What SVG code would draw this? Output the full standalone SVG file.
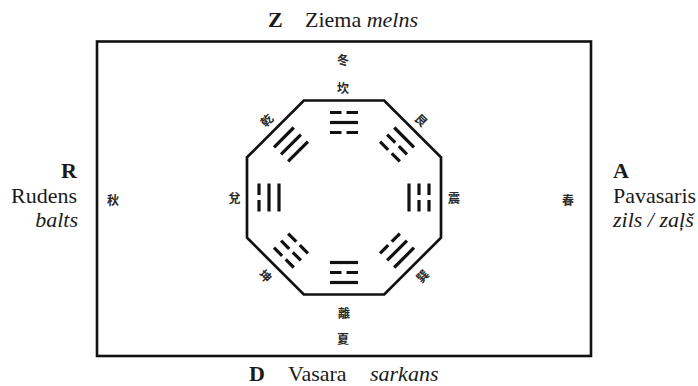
<svg xmlns="http://www.w3.org/2000/svg" xmlns:xlink="http://www.w3.org/1999/xlink" width="698" height="386" viewBox="0 0 698 386">
<style>
.lbl{font-family:"Liberation Serif","Times New Roman",serif;font-size:22px;fill:#1a1a1a}
.b{font-weight:bold}
.i{font-style:italic}
.zh{font-family:"Noto Sans CJK TC","Noto Sans CJK SC",sans-serif;font-size:12px;font-weight:bold;fill:#2a2a2a;text-anchor:middle;dominant-baseline:central}
.frame{fill:none;stroke:#111;stroke-width:2.6}
.oct{fill:none;stroke:#111;stroke-width:2.7;stroke-linejoin:miter}
.ln{fill:none;stroke:#111;stroke-width:3.2}
</style>
<defs>
<path id="yang" d="M330 0H358"/>
<path id="yin" d="M330 0H341.5M346.5 0H358"/>
</defs>
<rect width="698" height="386" fill="#fff"/>
<g id="frame"><rect class="frame" x="97" y="41.5" width="494" height="314.5"/></g>
<g id="labels">
<text class="lbl" y="27"><tspan class="b" x="268">Z</tspan><tspan x="305">Ziema </tspan><tspan class="i">melns</tspan></text>
<text class="lbl" text-anchor="end"><tspan class="b" x="77" y="178">R</tspan><tspan x="77" y="203">Rudens</tspan><tspan class="i" x="78" y="227">balts</tspan></text>
<text class="lbl"><tspan class="b" x="613" y="178">A</tspan><tspan x="613" y="203">Pavasaris</tspan><tspan class="i" x="613" y="227">zils / zaļš</tspan></text>
<text class="lbl" y="381"><tspan class="b" x="249">D</tspan><tspan x="288">Vasara</tspan><tspan class="i" x="370">sarkans</tspan></text>
</g>
<g id="seasons">
<text class="zh" x="343" y="59">冬</text>
<text class="zh" x="343" y="338">夏</text>
<text class="zh" x="113" y="199">秋</text>
<text class="zh" x="568" y="199">春</text>
</g>
<g id="octagon"><polygon class="oct" points="303.8,100.5 384.2,100.5 441,157.3 441,237.7 384.2,294.5 303.8,294.5 247,237.7 247,157.3"/></g>
<g id="kan" class="ln"><use xlink:href="#yin" y="112.5"/><use xlink:href="#yang" y="122.5"/><use xlink:href="#yin" y="132.5"/><text class="zh" x="343" y="87" stroke="none">坎</text></g>
<g id="gen" class="ln" transform="rotate(45 344 197.5)"><use xlink:href="#yang" y="112.5"/><use xlink:href="#yin" y="122.5"/><use xlink:href="#yin" y="132.5"/><text class="zh" x="344" y="87.5" stroke="none">艮</text></g>
<g id="zhen" class="ln" transform="rotate(90 344 197.5)"><use xlink:href="#yin" y="112.5"/><use xlink:href="#yin" y="122.5"/><use xlink:href="#yang" y="132.5"/><text class="zh" x="344" y="87.5" stroke="none" transform="rotate(-90 344 87.5)">震</text></g>
<g id="xun" class="ln" transform="rotate(135 344 197.5)"><use xlink:href="#yang" y="112.5"/><use xlink:href="#yang" y="122.5"/><use xlink:href="#yin" y="132.5"/><text class="zh" x="344" y="87.5" stroke="none" transform="rotate(180 344 87.5)">巽</text></g>
<g id="li" class="ln" transform="rotate(180 344 197.5)"><use xlink:href="#yang" y="112.5"/><use xlink:href="#yin" y="122.5"/><use xlink:href="#yang" y="132.5"/><text class="zh" x="344" y="83" stroke="none" transform="rotate(180 344 83)">離</text></g>
<g id="kun" class="ln" transform="rotate(225 344 197.5)"><use xlink:href="#yin" y="112.5"/><use xlink:href="#yin" y="122.5"/><use xlink:href="#yin" y="132.5"/><text class="zh" x="344" y="87.5" stroke="none" transform="rotate(180 344 87.5)">坤</text></g>
<g id="dui" class="ln" transform="rotate(270 344 197.5)"><use xlink:href="#yin" y="112.5"/><use xlink:href="#yang" y="122.5"/><use xlink:href="#yang" y="132.5"/><text class="zh" x="344" y="88" stroke="none" transform="rotate(90 344 88)">兌</text></g>
<g id="qian" class="ln" transform="rotate(315 344 197.5)"><use xlink:href="#yang" y="112.5"/><use xlink:href="#yang" y="122.5"/><use xlink:href="#yang" y="132.5"/><text class="zh" x="344" y="87.5" stroke="none">乾</text></g>
</svg>
